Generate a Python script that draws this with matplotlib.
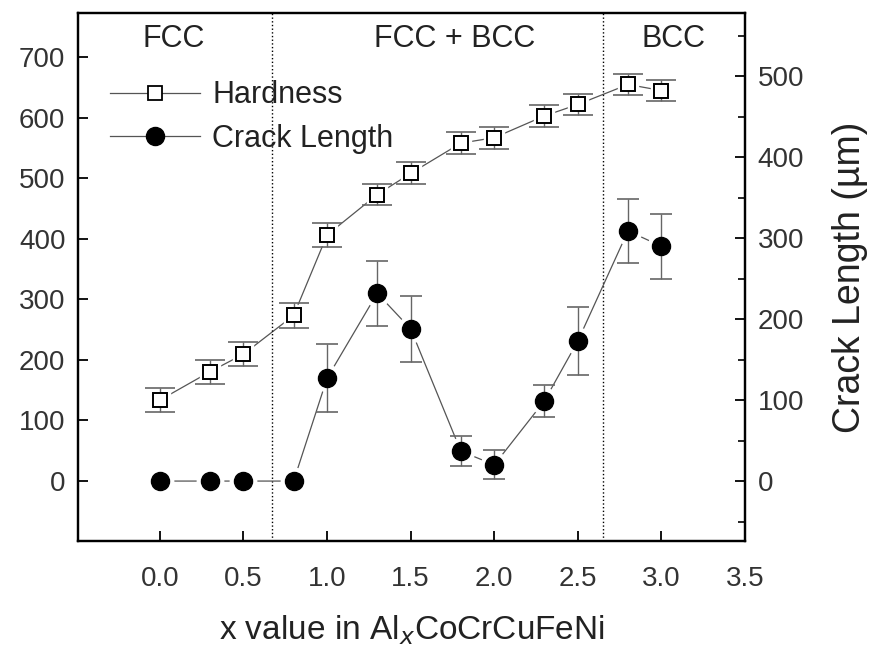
import matplotlib.pyplot as plt
from matplotlib.lines import Line2D

plt.rcParams['font.family'] = ['Liberation Sans', 'DejaVu Sans']

# Al content x in AlxCoCrCuFeNi
x_al = [0.0, 0.3, 0.5, 0.8, 1.0, 1.3, 1.5, 1.8, 2.0, 2.3, 2.5, 2.8, 3.0]
hardness = [133, 180, 209, 273, 406, 473, 508, 558, 567, 603, 622, 655, 645]
hardness_err = [20, 20, 20, 20, 20, 18, 18, 18, 18, 18, 18, 18, 18]
crack = [0, 0, 0, 0, 127, 232, 188, 37, 20, 99, 173, 309, 290]
crack_err = [0, 0, 0, 0, 42, 40, 41, 19, 18, 20, 42, 40, 40]

phase_bounds = [0.67, 2.65]
phase_names = ['FCC', 'FCC + BCC', 'BCC']
phase_pos = [0.08, 1.76, 3.07]

txt = '#333333'
fig = plt.figure(figsize=(8.72, 6.57), dpi=100)
ax = fig.add_axes([0.0894, 0.1766, 0.765, 0.8034])
ax2 = ax.twinx()

line_col = '#555555'
err_col = '#666666'

# hardness (left axis)
ax.plot(x_al, hardness, '-', color=line_col, lw=0.9, zorder=2)
ax.plot(x_al, hardness, 's', ms=15, mfc='white', mec='white', zorder=3)
ax.errorbar(x_al, hardness, yerr=hardness_err, fmt='none', ecolor=err_col,
            elinewidth=1.0, capsize=11, capthick=1.2, zorder=4)
ax.plot(x_al, hardness, 's', ms=10, mfc='white', mec='black', mew=1.4, zorder=5)

# crack length (right axis)
ax2.plot(x_al, crack, '-', color=line_col, lw=0.9, zorder=2)
ax2.plot(x_al, crack, 'o', ms=19, mfc='white', mec='white', zorder=3)
ce = [e if e > 0 else float('nan') for e in crack_err]
ax2.errorbar(x_al, crack, yerr=ce, fmt='none', ecolor=err_col,
             elinewidth=1.0, capsize=8, capthick=1.2, zorder=4)
ax2.plot(x_al, crack, 'o', ms=13, mfc='black', mec='black', zorder=5)

for xb in phase_bounds:
    ax.axvline(xb, color='black', ls=':', lw=1.0)
for name, xp in zip(phase_names, phase_pos):
    ax.text(xp, 731, name, ha='center', va='center', fontsize=22, color='#222222')

ax.set_xlim(-0.49, 3.48)
ax.set_ylim(-100, 773)
ax2.set_ylim(-74, 578)
ax.set_xticks([0.0, 0.5, 1.0, 1.5, 2.0, 2.5, 3.0, 3.5])
ax.set_xticklabels(['0.0', '0.5', '1.0', '1.5', '2.0', '2.5', '3.0', '3.5'])
ax.set_yticks(range(0, 701, 100))
ax2.set_yticks(range(0, 501, 100))
ax2.set_yticks(range(-50, 551, 100), minor=True)

for a in (ax, ax2):
    a.tick_params(direction='in', length=7, width=1.3, labelsize=20, labelcolor=txt, pad=9)
    a.tick_params(which='minor', direction='in', length=5, width=1.2)
    for s in a.spines.values():
        s.set_linewidth(1.6)
ax.tick_params(axis='x', pad=18)

ax.set_xlabel('x value in Al$_x$CoCrCuFeNi', fontsize=24, color='#222222', labelpad=15)
ax2.set_ylabel('Crack Length (µm)', fontsize=27, color='#222222', labelpad=20)

handles = [
    Line2D([0], [0], color=line_col, lw=0.9, marker='s', ms=10, mfc='white', mec='black', mew=1.3),
    Line2D([0], [0], color=line_col, lw=0.9, marker='o', ms=13, mfc='black', mec='black'),
]
ax.legend(handles, ['Hardness', 'Crack Length'], loc='upper left', bbox_to_anchor=(0.007, 0.925),
          frameon=False, fontsize=22, handlelength=2.95, handletextpad=0.4,
          labelspacing=0.45, labelcolor='#222222')

fig.savefig('out.png', dpi=100)
